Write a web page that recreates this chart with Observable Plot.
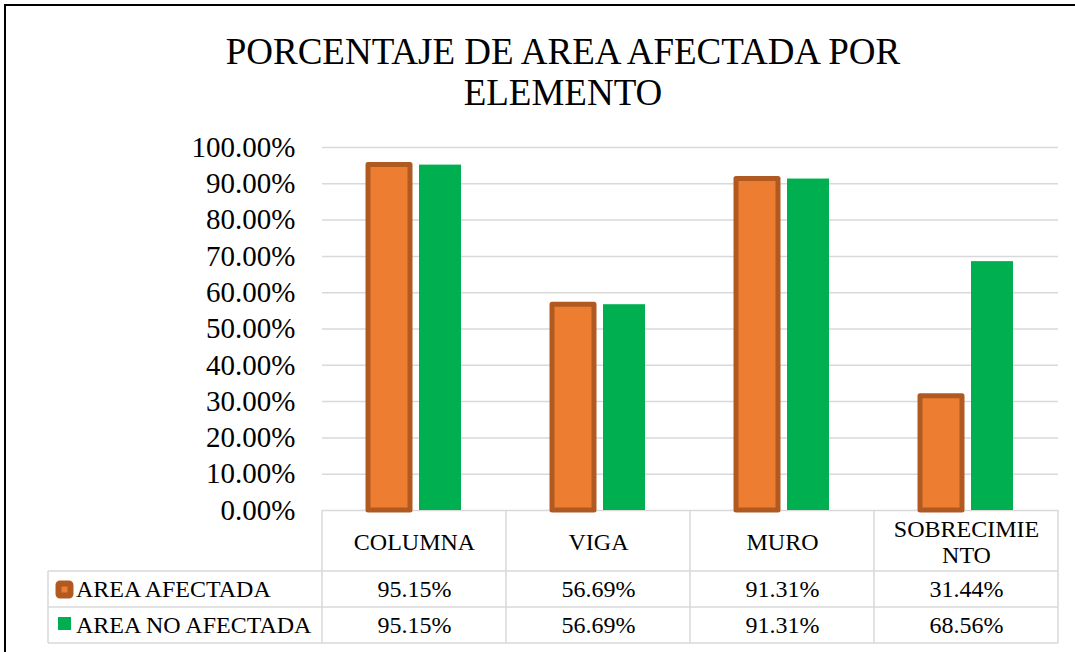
<!DOCTYPE html>
<html>
<head>
<meta charset="utf-8">
<script src="https://cdn.jsdelivr.net/npm/d3@7"></script>
<script src="https://cdn.jsdelivr.net/npm/@observablehq/plot@0.6"></script>
<style>
  body { margin: 0; background: #fff; }
  #wrap { position: relative; width: 1075px; height: 652px; overflow: hidden; background: #fff;
          font-family: "Liberation Serif", "Times New Roman", serif; }
  #border { position: absolute; left: 4px; top: 4px; width: 1300px; height: 900px;
            border-left: 2px solid #000; border-top: 2px solid #000; }
  #title { position: absolute; left: 0; top: 31px; width: 1126px; text-align: center;
           font-size: 37px; line-height: 41px; color: #000; }
  #chart { position: absolute; left: 0; top: 0; }
</style>
</head>
<body>
<div id="wrap">
  <div id="border"></div>
  <div id="chart"></div>
  <div id="title">PORCENTAJE DE AREA AFECTADA POR<br>ELEMENTO</div>
</div>
<script>
// ---- data ----
const categories = ["COLUMNA", "VIGA", "MURO", "SOBRECIMIENTO"];
const headerLabels = ["COLUMNA", "VIGA", "MURO", "SOBRECIMIE\nNTO"];
const series = ["AREA AFECTADA", "AREA NO AFECTADA"];
const areaAfectada = [0.9515, 0.5669, 0.9131, 0.3144];
const areaNoAfectada = [0.9515, 0.5669, 0.9131, 0.6856];
const yTicks = [0, 0.1, 0.2, 0.3, 0.4, 0.5, 0.6, 0.7, 0.8, 0.9, 1.0];

const fmt = d3.format(".2%");
const rowsA = categories.map((c, i) => ({cat: c, series: series[0], value: areaAfectada[i]}));
const rowsB = categories.map((c, i) => ({cat: c, series: series[1], value: areaNoAfectada[i]}));
const header = categories.map((c, i) => ({cat: c, label: headerLabels[i]}));

const W = 1075, H = 652, mTop = 147, mBottom = 142, mLeft = 322, mRight = 17;
const orange = "#ed7d31", orangeStroke = "#b05a22", green = "#00b050", gridC = "#d9d9d9";
const tableFont = 24;

const chart = Plot.plot({
  width: W, height: H,
  marginTop: mTop, marginBottom: mBottom, marginLeft: mLeft, marginRight: mRight,
  style: {fontFamily: "'Liberation Serif', 'Times New Roman', serif", fontSize: "29px", color: "#000", background: "transparent", overflow: "visible"},
  fx: {domain: categories, padding: 0, axis: null, label: null},
  x: {domain: series, paddingInner: 0.184, paddingOuter: 0.883, axis: null},
  y: {domain: [0, 1], ticks: yTicks, tickFormat: fmt, tickSize: 0, tickPadding: 27, label: null},
  marks: [
    Plot.ruleY(yTicks, {stroke: gridC, strokeWidth: 1.5}),
    Plot.barY(rowsB, {fx: "cat", x: "series", y: "value", fill: green}),
    Plot.barY(rowsA, {fx: "cat", x: "series", y: "value", fill: orange, stroke: orangeStroke, strokeWidth: 5, strokeLinejoin: "round"}),
    Plot.text(header, {fx: "cat", text: "label", frameAnchor: "bottom", lineAnchor: "middle", dy: 31, fontSize: tableFont, lineHeight: 1.1, fill: "#000"}),
    Plot.text(rowsA, {fx: "cat", text: d => fmt(d.value), frameAnchor: "bottom", lineAnchor: "middle", dy: 79, fontSize: tableFont, fill: "#000"}),
    Plot.text(rowsB, {fx: "cat", text: d => fmt(d.value), frameAnchor: "bottom", lineAnchor: "middle", dy: 115, fontSize: tableFont, fill: "#000"})
  ]
});
document.getElementById("chart").appendChild(chart);

// ---- data table grid & legend keys (built from the fx scale) ----
const svg = d3.select(chart.tagName.toLowerCase() === "svg" ? chart : chart.querySelector("svg"));
const fxs = chart.scale("fx");
let edges;
if (fxs && fxs.apply) {
  edges = categories.map(c => fxs.apply(c));
  edges.push(fxs.apply(categories[categories.length - 1]) + fxs.bandwidth);
} else {
  const step = (W - mLeft - mRight) / categories.length;
  edges = d3.range(categories.length + 1).map(i => mLeft + i * step);
}
const y0 = H - mBottom;          // 0% baseline (top of table)
const rowY = [y0 + 61, y0 + 97, y0 + 133];
const tableLeft = 48;
const g = svg.append("g").attr("stroke", gridC).attr("stroke-width", 1.5);
rowY.forEach(y => g.append("line").attr("x1", tableLeft).attr("x2", edges[edges.length - 1]).attr("y1", y).attr("y2", y));
edges.forEach(x => g.append("line").attr("x1", x).attr("x2", x).attr("y1", y0).attr("y2", rowY[2]));
g.append("line").attr("x1", tableLeft).attr("x2", tableLeft).attr("y1", rowY[0]).attr("y2", rowY[2]);

const lg = svg.append("g").attr("font-family", "'Liberation Serif', 'Times New Roman', serif")
  .attr("font-size", tableFont).attr("text-anchor", "start").attr("fill", "#000");
lg.append("rect").attr("x", 58.5).attr("y", 583.5).attr("width", 12).attr("height", 12).attr("rx", 1.5)
  .attr("fill", orange).attr("stroke", orangeStroke).attr("stroke-width", 6).attr("stroke-linejoin", "round");
lg.append("rect").attr("x", 58).attr("y", 617).attr("width", 13).attr("height", 13).attr("fill", green);
lg.append("text").attr("x", 76).attr("y", (rowY[0] + rowY[1]) / 2).attr("dy", "0.32em").text(series[0]);
lg.append("text").attr("x", 76).attr("y", (rowY[1] + rowY[2]) / 2).attr("dy", "0.32em").text(series[1]);
</script>
</body>
</html>
